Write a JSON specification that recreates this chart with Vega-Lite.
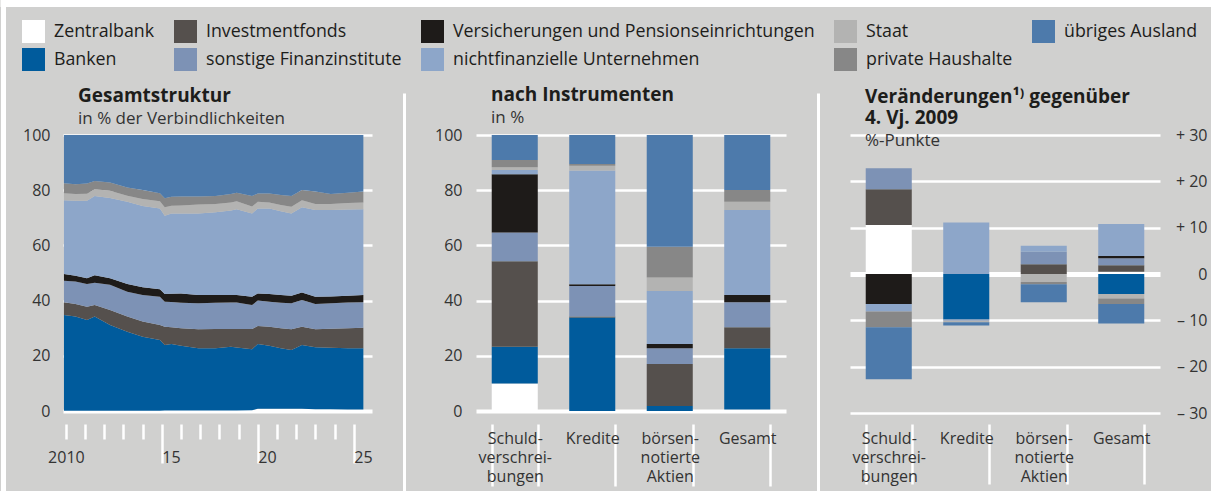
{
  "$schema": "https://vega.github.io/schema/vega-lite/v6.json",
  "autosize": {"type": "none"},
  "padding": {"left": 63, "top": 135, "right": 1148, "bottom": 356},
  "background": "#d0d0cf",
  "datasets": {
    "series": [
      {"k": "z", "name": "Zentralbank", "o": 1},
      {"k": "b", "name": "Banken", "o": 2},
      {"k": "if", "name": "Investmentfonds", "o": 3},
      {"k": "sf", "name": "sonstige Finanzinstitute", "o": 4},
      {"k": "vp", "name": "Versicherungen und Pensionseinrichtungen", "o": 5},
      {"k": "n", "name": "nichtfinanzielle Unternehmen", "o": 6},
      {"k": "s", "name": "Staat", "o": 7},
      {"k": "h", "name": "private Haushalte", "o": 8},
      {"k": "a", "name": "übriges Ausland", "o": 9}
    ],
    "struct": [
      {"t": 2009.9, "z": 0.1, "b": 34.7, "if": 4.6, "sf": 7.8, "vp": 2.4, "n": 26.8, "s": 2.5, "h": 3.6, "a": 17.5},
      {"t": 2010.5, "z": 0.1, "b": 34.1, "if": 4.6, "sf": 8.1, "vp": 2.1, "n": 27.2, "s": 2.4, "h": 3.6, "a": 17.8},
      {"t": 2011.1, "z": 0.1, "b": 32.9, "if": 4.8, "sf": 8.2, "vp": 2.1, "n": 28.1, "s": 2.5, "h": 3.7, "a": 17.6},
      {"t": 2011.5, "z": 0.1, "b": 34.1, "if": 4.2, "sf": 8.1, "vp": 2.7, "n": 28.7, "s": 2.4, "h": 3.0, "a": 16.7},
      {"t": 2012.3, "z": 0.1, "b": 31.1, "if": 5.4, "sf": 9.1, "vp": 2.4, "n": 29.1, "s": 2.6, "h": 3.0, "a": 17.2},
      {"t": 2013.2, "z": 0.1, "b": 28.6, "if": 5.5, "sf": 9.0, "vp": 2.8, "n": 29.8, "s": 2.2, "h": 3.0, "a": 19.0},
      {"t": 2014.0, "z": 0.1, "b": 26.8, "if": 5.5, "sf": 9.6, "vp": 2.8, "n": 29.5, "s": 2.5, "h": 3.3, "a": 19.9},
      {"t": 2014.9, "z": 0.1, "b": 25.6, "if": 5.5, "sf": 10.2, "vp": 2.7, "n": 29.3, "s": 2.6, "h": 2.9, "a": 21.1},
      {"t": 2015.15, "z": 0.2, "b": 23.7, "if": 6.6, "sf": 9.1, "vp": 2.8, "n": 28.3, "s": 3.1, "h": 3.3, "a": 22.9},
      {"t": 2015.5, "z": 0.2, "b": 24.1, "if": 6.0, "sf": 9.2, "vp": 3.0, "n": 29.1, "s": 2.8, "h": 3.2, "a": 22.4},
      {"t": 2016.0, "z": 0.2, "b": 23.4, "if": 6.4, "sf": 9.2, "vp": 3.4, "n": 29.0, "s": 2.9, "h": 3.2, "a": 22.3},
      {"t": 2016.9, "z": 0.2, "b": 22.5, "if": 6.9, "sf": 9.4, "vp": 3.0, "n": 29.6, "s": 3.2, "h": 2.9, "a": 22.3},
      {"t": 2017.8, "z": 0.2, "b": 22.5, "if": 7.0, "sf": 9.5, "vp": 2.8, "n": 30.0, "s": 3.0, "h": 2.9, "a": 22.1},
      {"t": 2018.6, "z": 0.2, "b": 23.1, "if": 6.4, "sf": 9.6, "vp": 2.7, "n": 30.6, "s": 2.9, "h": 3.1, "a": 21.4},
      {"t": 2018.9, "z": 0.2, "b": 22.8, "if": 6.7, "sf": 9.6, "vp": 2.7, "n": 31.1, "s": 2.9, "h": 3.1, "a": 20.9},
      {"t": 2019.7, "z": 0.3, "b": 22.1, "if": 7.3, "sf": 8.7, "vp": 3.0, "n": 30.2, "s": 2.5, "h": 3.8, "a": 22.1},
      {"t": 2020.0, "z": 0.8, "b": 23.5, "if": 6.5, "sf": 9.2, "vp": 2.6, "n": 30.8, "s": 2.4, "h": 3.0, "a": 21.2},
      {"t": 2020.6, "z": 0.8, "b": 22.8, "if": 6.9, "sf": 9.1, "vp": 2.8, "n": 31.0, "s": 2.1, "h": 3.3, "a": 21.2},
      {"t": 2021.2, "z": 0.8, "b": 21.9, "if": 7.3, "sf": 9.2, "vp": 2.8, "n": 30.4, "s": 2.2, "h": 3.7, "a": 21.7},
      {"t": 2021.75, "z": 0.8, "b": 21.3, "if": 7.5, "sf": 9.4, "vp": 2.8, "n": 29.8, "s": 2.4, "h": 3.9, "a": 22.1},
      {"t": 2022.3, "z": 0.8, "b": 23.1, "if": 6.6, "sf": 9.7, "vp": 2.7, "n": 30.9, "s": 2.6, "h": 3.7, "a": 19.9},
      {"t": 2023.0, "z": 0.6, "b": 22.5, "if": 6.5, "sf": 9.2, "vp": 2.6, "n": 31.4, "s": 2.2, "h": 4.5, "a": 20.5},
      {"t": 2023.8, "z": 0.6, "b": 22.3, "if": 6.9, "sf": 9.2, "vp": 2.5, "n": 31.3, "s": 2.2, "h": 3.6, "a": 21.4},
      {"t": 2024.7, "z": 0.5, "b": 22.2, "if": 7.3, "sf": 9.3, "vp": 2.5, "n": 31.2, "s": 2.4, "h": 3.7, "a": 20.9},
      {"t": 2025.5, "z": 0.5, "b": 22.2, "if": 7.5, "sf": 9.2, "vp": 2.6, "n": 31.1, "s": 2.4, "h": 4.0, "a": 20.5}
    ],
    "instr": [
      {"c": "Schuldverschreibungen", "z": 10.0, "b": 13.3, "if": 31.0, "sf": 10.4, "vp": 21.1, "n": 1.5, "s": 1.0, "h": 2.6, "a": 9.1},
      {"c": "Kredite", "z": 0, "b": 33.9, "if": 0.3, "sf": 11.1, "vp": 0.6, "n": 41.2, "s": 1.8, "h": 0.6, "a": 10.5},
      {"c": "börsennotierte Aktien", "z": 0, "b": 1.8, "if": 15.2, "sf": 5.7, "vp": 1.6, "n": 19.2, "s": 4.9, "h": 11.1, "a": 40.5},
      {"c": "Gesamt", "z": 0.5, "b": 22.2, "if": 7.6, "sf": 9.1, "vp": 2.6, "n": 30.8, "s": 3.0, "h": 4.3, "a": 19.9}
    ],
    "chg": [
      {"c": "Schuldverschreibungen", "z": 10.6, "b": 0, "if": 7.7, "sf": 4.5, "vp": -6.5, "n": -1.6, "s": 0, "h": -3.4, "a": -11.2},
      {"c": "Kredite", "z": 0, "b": -9.8, "if": 0, "sf": -0.3, "vp": 0, "n": 11.1, "s": -0.3, "h": 0, "a": -0.7},
      {"c": "börsennotierte Aktien", "z": 0, "b": 0, "if": 2.1, "sf": 2.7, "vp": 0, "n": 1.3, "s": -1.7, "h": -0.5, "a": -3.9},
      {"c": "Gesamt", "z": 0.5, "b": -4.3, "if": 1.4, "sf": 1.5, "vp": 0.5, "n": 6.9, "s": -1.0, "h": -1.2, "a": -4.2}
    ]
  },
  "hconcat": [
    {
      "width": 309,
      "height": 276,
      "title": {"text": "Gesamtstruktur", "subtitle": "in % der Verbindlichkeiten", "anchor": "start", "frame": "group", "dx": 15, "offset": -129, "subtitlePadding": 5},
      "data": {"name": "struct"},
      "transform": [
        {"fold": ["z", "b", "if", "sf", "vp", "n", "s", "h", "a"], "as": ["key", "val"]},
        {"lookup": "key", "from": {"data": {"name": "series"}, "key": "k", "fields": ["name", "o"]}}
      ],
      "layer": [
        {
          "mark": {"type": "area", "interpolate": "linear"},
          "encoding": {
            "x": {
              "field": "t", "type": "quantitative",
              "scale": {"domain": [2009.85, 2025.95], "nice": false, "zero": false},
              "axis": {
                "title": null,
                "values": [2010, 2011, 2012, 2013, 2014, 2015, 2016, 2017, 2018, 2019, 2020, 2021, 2022, 2023, 2024, 2025],
                "offset": 13, "domain": false, "grid": false,
                "tickColor": "white", "tickWidth": 2.5,
                "tickSize": {"condition": {"test": "datum.value == 2015 || datum.value == 2020 || datum.value == 2025", "value": 39}, "value": 15},
                "labelPadding": {"condition": {"test": "datum.value == 2015 || datum.value == 2020 || datum.value == 2025", "value": -14}, "value": 10},
                "labelExpr": "datum.value == 2010 ? '2010' : (datum.value == 2015 || datum.value == 2020 || datum.value == 2025) ? slice(toString(datum.value), 2) : ''",
                "labelAlign": {"condition": {"test": "datum.value == 2010", "value": "center"}, "value": "left"},
                "labelBaseline": "top", "labelOverlap": false, "labelFlush": false
              }
            },
            "y": {
              "field": "val", "type": "quantitative", "stack": "zero",
              "scale": {"domain": [0, 100], "nice": false},
              "axis": {
                "title": null, "values": [0, 20, 40, 60, 80, 100],
                "domain": false, "ticks": false, "grid": true, "gridColor": "white",
                "gridWidth": {"condition": {"test": "datum.value == 0", "value": 4}, "value": 2.5},
                "labelPadding": 13
              }
            },
            "color": {
              "field": "name", "type": "nominal", "title": null,
              "scale": {
                "domain": ["Zentralbank", "Investmentfonds", "Versicherungen und Pensionseinrichtungen", "Staat", "übriges Ausland", "Banken", "sonstige Finanzinstitute", "nichtfinanzielle Unternehmen", "private Haushalte"],
                "range": ["#ffffff", "#55504d", "#1e1b19", "#b3b3b2", "#4d7aab", "#005b9c", "#7d92b5", "#8da6c9", "#878787"]
              },
              "legend": {
                "orient": "none", "legendX": -41, "legendY": -115, "direction": "horizontal", "columns": 5,
                "symbolType": "square", "symbolSize": 529, "symbolStrokeWidth": 0, "symbolOpacity": 1,
                "labelFontSize": 17.8, "labelColor": "#1d1d1b", "labelFont": "Open Sans", "labelLimit": 500,
                "rowPadding": 5, "columnPadding": 19, "labelOffset": 9
              }
            },
            "order": {"field": "o", "type": "quantitative"}
          }
        },
        {
          "mark": {"type": "point", "opacity": 0},
          "encoding": {
            "x": {
              "field": "t", "type": "quantitative",
              "axis": {"title": null, "values": [2009.85], "orient": "bottom", "offset": -411, "tickSize": 491, "tickWidth": 5, "tickOffset": -60.5, "tickColor": "white", "labels": false, "domain": false, "grid": false}
            },
            "y": {
              "field": "val", "type": "quantitative",
              "axis": {"title": null, "values": [100], "orient": "left", "offset": -1148, "tickSize": 1211, "tickWidth": 7, "tickOffset": -132, "tickColor": "white", "labels": false, "domain": false, "grid": false}
            }
          }
        }
      ],
      "resolve": {"axis": {"x": "independent", "y": "independent"}}
    },
    {
      "hconcat": [
        {
          "width": 310,
          "height": 276,
          "title": {"text": "nach Instrumenten", "subtitle": "in %", "anchor": "start", "frame": "group", "dx": 15, "offset": -34, "subtitlePadding": 5},
          "data": {"name": "instr"},
          "transform": [
            {"fold": ["z", "b", "if", "sf", "vp", "n", "s", "h", "a"], "as": ["key", "val"]},
            {"lookup": "key", "from": {"data": {"name": "series"}, "key": "k", "fields": ["name", "o"]}}
          ],
          "layer": [
            {
              "mark": {"type": "bar"},
              "encoding": {
                "x": {
                  "field": "c", "type": "nominal",
                  "scale": {"domain": ["Schuldverschreibungen", "Kredite", "börsennotierte Aktien", "Gesamt"], "paddingInner": 0.406, "paddingOuter": 0.203},
                  "axis": {
                    "title": null, "orient": "bottom", "offset": 13, "domain": false, "grid": false,
                    "tickBand": "extent", "tickColor": "white", "tickWidth": 2.5, "tickSize": 62,
                    "labelPadding": -56, "labelBaseline": "top", "labelLineHeight": 19, "labelAngle": 0,
                    "labelOverlap": false,
                    "labelExpr": "datum.value == 'Schuldverschreibungen' ? ['Schuld-', 'verschrei-', 'bungen'] : datum.value == 'börsennotierte Aktien' ? ['börsen-', 'notierte', 'Aktien'] : datum.label"
                  }
                },
                "y": {
                  "field": "val", "type": "quantitative", "stack": "zero",
                  "scale": {"domain": [0, 100], "nice": false},
                  "axis": {
                    "title": null, "values": [0, 20, 40, 60, 80, 100],
                    "domain": false, "ticks": false, "grid": true, "gridColor": "white",
                    "gridWidth": {"condition": {"test": "datum.value == 0", "value": 4}, "value": 2.5},
                    "labelPadding": 14
                  }
                },
                "color": {
                  "field": "name", "type": "nominal", "title": null,
                  "scale": {
                    "domain": ["Zentralbank", "Investmentfonds", "Versicherungen und Pensionseinrichtungen", "Staat", "übriges Ausland", "Banken", "sonstige Finanzinstitute", "nichtfinanzielle Unternehmen", "private Haushalte"],
                    "range": ["#ffffff", "#55504d", "#1e1b19", "#b3b3b2", "#4d7aab", "#005b9c", "#7d92b5", "#8da6c9", "#878787"]
                  },
                  "legend": {
                    "orient": "none", "legendX": -41, "legendY": -115, "direction": "horizontal", "columns": 5,
                    "symbolType": "square", "symbolSize": 529, "symbolStrokeWidth": 0, "symbolOpacity": 1,
                    "labelFontSize": 17.8, "labelColor": "#1d1d1b", "labelFont": "Open Sans", "labelLimit": 500,
                    "rowPadding": 5, "columnPadding": 19, "labelOffset": 9
                  }
                },
                "order": {"field": "o", "type": "quantitative"}
              }
            },
            {
              "mark": {"type": "point", "opacity": 0},
              "encoding": {
                "x": {
                  "field": "c", "type": "nominal",
                  "axis": {"title": null, "values": ["Schuldverschreibungen"], "bandPosition": 0, "orient": "bottom", "offset": -318, "tickSize": 398, "tickWidth": 3, "tickOffset": -88, "tickColor": "white", "labels": false, "domain": false, "grid": false}
                }
              }
            }
          ],
          "resolve": {"axis": {"x": "independent"}}
        },
        {
          "width": 310,
          "height": 278,
          "title": {"text": ["Veränderungen¹⁾ gegenüber", "4. Vj. 2009"], "subtitle": "%-Punkte", "anchor": "start", "frame": "group", "dx": 15, "offset": -57, "lineHeight": 21, "subtitlePadding": 5},
          "data": {"name": "chg"},
          "transform": [
            {"fold": ["z", "b", "if", "sf", "vp", "n", "s", "h", "a"], "as": ["key", "val"]},
            {"lookup": "key", "from": {"data": {"name": "series"}, "key": "k", "fields": ["name", "o"]}}
          ],
          "layer": [
            {
              "mark": {"type": "bar"},
              "encoding": {
                "x": {
                  "field": "c", "type": "nominal",
                  "scale": {"domain": ["Schuldverschreibungen", "Kredite", "börsennotierte Aktien", "Gesamt"], "paddingInner": 0.406, "paddingOuter": 0.203},
                  "axis": {
                    "title": null, "orient": "bottom", "offset": 11, "domain": false, "grid": false,
                    "tickBand": "extent", "tickColor": "white", "tickWidth": 2.5, "tickSize": 60,
                    "labelPadding": -54, "labelBaseline": "top", "labelLineHeight": 19, "labelAngle": 0,
                    "labelOverlap": false,
                    "labelExpr": "datum.value == 'Schuldverschreibungen' ? ['Schuld-', 'verschrei-', 'bungen'] : datum.value == 'börsennotierte Aktien' ? ['börsen-', 'notierte', 'Aktien'] : datum.label"
                  }
                },
                "y": {
                  "field": "val", "type": "quantitative", "stack": "zero",
                  "scale": {"domain": [-30, 30], "nice": false},
                  "axis": {
                    "title": null, "orient": "right", "values": [-30, -20, -10, 0, 10, 20, 30],
                    "domain": false, "ticks": false, "grid": true, "gridColor": "white",
                    "gridWidth": {"condition": {"test": "datum.value == 0", "value": 5}, "value": 2.5},
                    "labelAlign": "right", "labelPadding": 47,
                    "labelExpr": "datum.value > 0 ? '+ ' + datum.value : datum.value < 0 ? '– ' + (-datum.value) : '0'"
                  }
                },
                "color": {
                  "field": "name", "type": "nominal", "title": null,
                  "scale": {
                    "domain": ["Zentralbank", "Investmentfonds", "Versicherungen und Pensionseinrichtungen", "Staat", "übriges Ausland", "Banken", "sonstige Finanzinstitute", "nichtfinanzielle Unternehmen", "private Haushalte"],
                    "range": ["#ffffff", "#55504d", "#1e1b19", "#b3b3b2", "#4d7aab", "#005b9c", "#7d92b5", "#8da6c9", "#878787"]
                  },
                  "legend": {
                    "orient": "none", "legendX": -41, "legendY": -115, "direction": "horizontal", "columns": 5,
                    "symbolType": "square", "symbolSize": 529, "symbolStrokeWidth": 0, "symbolOpacity": 1,
                    "labelFontSize": 17.8, "labelColor": "#1d1d1b", "labelFont": "Open Sans", "labelLimit": 500,
                    "rowPadding": 5, "columnPadding": 19, "labelOffset": 9
                  }
                },
                "order": {"field": "o", "type": "quantitative"}
              }
            },
            {
              "mark": {"type": "point", "opacity": 0},
              "encoding": {
                "x": {
                  "field": "c", "type": "nominal",
                  "axis": {"title": null, "values": ["Schuldverschreibungen"], "bandPosition": 0, "orient": "bottom", "offset": -320, "tickSize": 398, "tickWidth": 3, "tickOffset": -48, "tickColor": "white", "labels": false, "domain": false, "grid": false}
                }
              }
            }
          ],
          "resolve": {"axis": {"x": "independent"}}
        }
      ],
      "spacing": 64,
      "bounds": "flush"
    }
  ],
  "spacing": 104,
  "bounds": "flush",
  "config": {
    "font": "Open Sans",
    "view": {"stroke": null},
    "axis": {"labelFont": "Open Sans", "labelFontSize": 16, "labelColor": "#333333"},
    "title": {"font": "Open Sans", "fontSize": 19, "fontWeight": "bold", "color": "#1d1d1b", "subtitleFont": "Open Sans", "subtitleFontSize": 17, "subtitleColor": "#333333", "subtitlePadding": 3}
  }
}
